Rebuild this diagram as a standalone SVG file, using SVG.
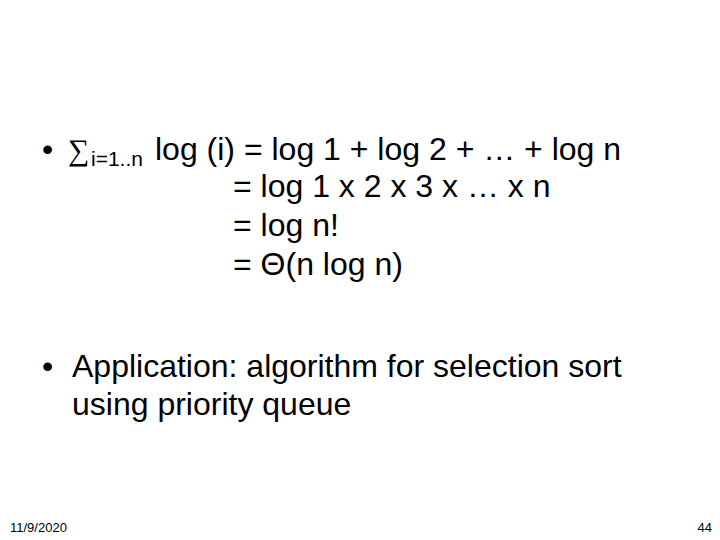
<svg xmlns="http://www.w3.org/2000/svg" width="720" height="540" viewBox="0 0 720 540">
<style>
.t{font-family:"Liberation Sans",Arial,sans-serif;font-size:32px;fill:#000}
.s{font-family:"Liberation Sans",Arial,sans-serif;font-size:21px;fill:#000}
.f{font-family:"Liberation Sans",Arial,sans-serif;font-size:13px;fill:#000}
</style>
<rect width="720" height="540" fill="#fff"/>
<text class="t" x="42" y="160">•</text>
<text x="68" y="160" font-family="Liberation Serif,serif" font-size="30">∑</text>
<text class="s" x="91" y="166">i=1..n</text>
<text class="t" x="155" y="160">log (i) = log 1 + log 2 + … + log n</text>
<text class="t" x="233" y="197">= log 1 x 2 x 3 x … x n</text>
<text class="t" x="233" y="236">= log n!</text>
<text class="t" x="233" y="275">= Θ(n log n)</text>
<text class="t" x="42" y="377">•</text>
<text class="t" x="72" y="377">Application: algorithm for selection sort</text>
<text class="t" x="72" y="415">using priority queue</text>
<text class="f" x="10" y="532">11/9/2020</text>
<text class="f" x="712" y="532" text-anchor="end">44</text>
</svg>
